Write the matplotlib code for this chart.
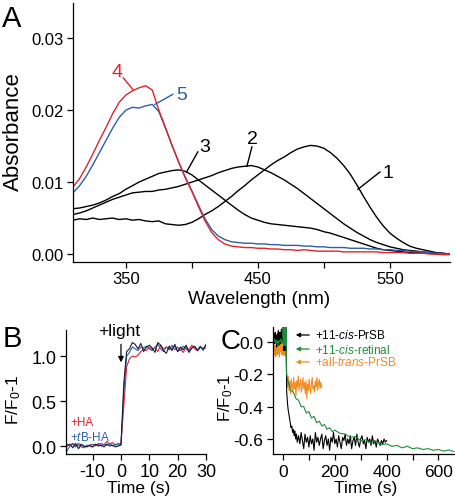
"""
three panel figure: absorbance spectra (A), fluorescence step on light (B),
fluorescence decay after adding retinoids (C)
"""

import numpy as np
import matplotlib
matplotlib.use("Agg")
import matplotlib.pyplot as plt

plt.rcParams['font.family'] = ['Liberation Sans', 'DejaVu Sans']
plt.rcParams['mathtext.fontset'] = 'custom'
plt.rcParams['mathtext.rm'] = 'Liberation Sans'
plt.rcParams['mathtext.it'] = 'Liberation Sans:italic'
plt.rcParams['axes.unicode_minus'] = False

# ---- panel A : spectra (nm, absorbance)
wl = [310, 315, 320, 325, 330, 335, 340, 345, 350, 355, 360, 365, 370, 375, 380,
      385, 390, 395, 400, 405, 410, 415, 420, 425, 430, 435, 440, 445, 450, 455,
      460, 465, 470, 475, 480, 485, 490, 495, 500, 505, 510, 515, 520, 525, 530,
      535, 540, 545, 550, 555, 560, 565, 570, 575, 580, 585, 590, 595]

abs_1 = [0.0047, 0.0049, 0.0048, 0.0050, 0.0048, 0.0049, 0.0050, 0.0048, 0.0049, 0.0047,
         0.0048, 0.0046, 0.0045, 0.0046, 0.0042, 0.0041, 0.0040, 0.0041, 0.0044, 0.0049,
         0.0055, 0.0060, 0.0066, 0.0073, 0.0080, 0.0088, 0.0095, 0.0103, 0.0110, 0.0117,
         0.0124, 0.0130, 0.0135, 0.0141, 0.0146, 0.0149, 0.0151, 0.0150, 0.0147, 0.0141,
         0.0133, 0.0123, 0.0111, 0.0096, 0.0080, 0.0065, 0.0051, 0.0039, 0.0029, 0.0022,
         0.0016, 0.0011, 0.0008, 0.0006, 0.0004, 0.0002, 0.0001, 0.0000]

abs_2 = [0.0055, 0.0057, 0.0060, 0.0064, 0.0068, 0.0072, 0.0076, 0.0079, 0.0082, 0.0085,
         0.0086, 0.0087, 0.0087, 0.0089, 0.0090, 0.0092, 0.0094, 0.0097, 0.0100, 0.0103,
         0.0106, 0.0109, 0.0113, 0.0116, 0.0119, 0.0121, 0.0122, 0.0123, 0.0121, 0.0117,
         0.0113, 0.0108, 0.0103, 0.0097, 0.0091, 0.0084, 0.0077, 0.0070, 0.0063, 0.0056,
         0.0049, 0.0042, 0.0036, 0.0030, 0.0025, 0.0020, 0.0016, 0.0013, 0.0010, 0.0008,
         0.0006, 0.0005, 0.0004, 0.0003, 0.0002, 0.0001, 0.0001, 0.0000]

abs_3 = [0.0063, 0.0064, 0.0066, 0.0068, 0.0071, 0.0075, 0.0080, 0.0084, 0.0090, 0.0095,
         0.0100, 0.0104, 0.0108, 0.0112, 0.0114, 0.0116, 0.0117, 0.0115, 0.0110, 0.0103,
         0.0096, 0.0089, 0.0082, 0.0075, 0.0068, 0.0061, 0.0055, 0.0050, 0.0047, 0.0044,
         0.0042, 0.0041, 0.0040, 0.0039, 0.0038, 0.0037, 0.0036, 0.0034, 0.0031, 0.0029,
         0.0026, 0.0023, 0.0020, 0.0017, 0.0014, 0.0011, 0.0008, 0.0006, 0.0005, 0.0004,
         0.0003, 0.0002, 0.0002, 0.0001, 0.0001, 0.0000, 0.0000, 0.0000]

abs_4 = [0.0093, 0.0105, 0.0121, 0.0139, 0.0158, 0.0176, 0.0195, 0.0211, 0.0221, 0.0227,
         0.0231, 0.0234, 0.0228, 0.0200, 0.0176, 0.0151, 0.0128, 0.0106, 0.0087, 0.0066,
         0.0046, 0.0030, 0.0020, 0.0014, 0.0011, 0.0010, 0.0009, 0.0009, 0.0008, 0.0008,
         0.0007, 0.0007, 0.0006, 0.0006, 0.0005, 0.0006, 0.0005, 0.0004, 0.0004, 0.0004,
         0.0004, 0.0003, 0.0003, 0.0003, 0.0003, 0.0003, 0.0003, 0.0002, 0.0002, 0.0002,
         0.0002, 0.0001, 0.0001, 0.0001, 0.0000, 0.0000, -0.0001, -0.0001]

abs_5 = [0.0085, 0.0095, 0.0108, 0.0124, 0.0141, 0.0158, 0.0175, 0.0190, 0.0200, 0.0204,
         0.0203, 0.0206, 0.0208, 0.0198, 0.0175, 0.0151, 0.0128, 0.0107, 0.0088, 0.0068,
         0.0049, 0.0034, 0.0025, 0.0020, 0.0017, 0.0016, 0.0015, 0.0015, 0.0014, 0.0014,
         0.0013, 0.0013, 0.0012, 0.0012, 0.0012, 0.0011, 0.0011, 0.0010, 0.0010, 0.0009,
         0.0009, 0.0009, 0.0008, 0.0008, 0.0008, 0.0007, 0.0007, 0.0006, 0.0006, 0.0005,
         0.0005, 0.0004, 0.0003, 0.0003, 0.0002, 0.0001, 0.0001, 0.0000]

# ---- panel B : F/F0-1 vs time (s)
t_b = [-19, -18, -17, -16, -15, -14, -13, -12, -11, -10, -9, -8, -7, -6, -5, -4, -3, -2, -1, 0,
       1, 2, 3, 4, 5, 6, 7, 8, 9, 10, 11, 12, 13, 14, 15, 16, 17, 18, 19, 20,
       21, 22, 23, 24, 25, 26, 27, 28, 29, 30]

f_ha = [0.02, 0.01, 0.03, 0.00, 0.01, -0.01, -0.02, 0.01, 0.00, -0.01, 0.02, 0.01, 0.03, 0.01,
        0.05, 0.02, 0.04, 0.01, 0.03, 0.02, 0.45, 0.88, 0.97, 1.00, 0.99, 1.01, 1.05, 1.08,
        1.06, 1.10, 1.07, 1.09, 1.05, 1.12, 1.08, 1.10, 1.07, 1.09, 1.11, 1.05, 1.08, 1.04,
        1.10, 1.07, 1.12, 1.08, 1.06, 1.10, 1.08, 1.09]

f_tbha = [-0.05, 0.00, 0.02, -0.01, 0.03, 0.01, -0.01, 0.00, 0.01, 0.02, 0.00, 0.03, 0.00, 0.02,
          0.01, 0.03, 0.00, 0.02, 0.01, 0.02, 0.60, 1.00, 1.04, 1.10, 1.08, 1.06, 1.10, 1.09,
          1.11, 1.08, 1.06, 1.10, 1.13, 1.08, 1.05, 1.10, 1.08, 1.12, 1.07, 1.10, 1.06, 1.11,
          1.08, 1.05, 1.09, 1.10, 1.07, 1.11, 1.06, 1.13]

f_ctrl = [0.00, 0.02, -0.02, 0.03, -0.03, 0.02, 0.00, -0.01, 0.01, -0.01, 0.02, 0.00, 0.01, -0.01,
          0.02, 0.00, 0.01, -0.01, 0.00, 0.01, 0.70, 1.05, 1.08, 1.15, 1.13, 1.08, 1.14, 1.05,
          1.10, 1.12, 1.09, 1.04, 1.15, 1.12, 1.06, 1.03, 1.11, 1.06, 1.13, 1.05, 1.10, 1.07,
          1.12, 1.04, 1.09, 1.11, 1.06, 1.10, 1.08, 1.12]

# ---- panel C : F/F0-1 vs time (s)
t_cis = [-36, -34, -32, -30, -28, -26, -24, -22, -20, -18, -16, -14, -12, -10, -8, -6, -4, -2,
         0, 1, 2, 3, 4, 5, 6, 7, 8, 9, 10, 11, 12,
         14, 16, 18, 20, 22, 25, 28, 31, 34, 37, 40, 43, 46, 49, 52, 55,
         60, 65, 70, 75, 80, 85, 90, 95, 100, 105, 110, 115, 120, 125, 130, 135, 140, 145,
         150, 155, 160, 165, 170, 175, 180, 185, 190, 195, 200, 205, 210, 215, 220, 225,
         230, 235, 240, 245, 250, 255, 260, 265, 270, 275, 280, 285, 290, 295, 300, 305,
         310, 315, 320, 325, 330, 335, 340, 345, 350, 355, 360, 365, 370, 375, 380, 385,
         390, 395, 400]
f_cis = [0.02, 0.05, -0.01, 0.06, 0.00, 0.04, -0.03, 0.05, 0.01, 0.07, -0.02, 0.03, 0.06, -0.01,
         0.04, 0.08, 0.00, 0.03,
         0.02, 0.60, -0.05, 0.60, -0.05, 0.60, -0.05, 0.60, -0.05, 0.60, -0.05, 0.60, 0.10,
         -0.30, -0.35, -0.39, -0.42, -0.44, -0.47, -0.50, -0.53, -0.52, -0.56, -0.54, -0.58,
         -0.55, -0.60, -0.57, -0.62,
         -0.58, -0.63, -0.56, -0.61, -0.66, -0.57, -0.62, -0.59, -0.65, -0.58, -0.63, -0.60,
         -0.67, -0.56, -0.62, -0.59, -0.64, -0.60, -0.57, -0.66, -0.61, -0.58, -0.64, -0.60,
         -0.67, -0.59, -0.62, -0.56, -0.63, -0.60, -0.65, -0.58, -0.62, -0.66, -0.59, -0.61,
         -0.57, -0.64, -0.60, -0.63, -0.58, -0.66, -0.61, -0.59, -0.64, -0.57, -0.62, -0.65,
         -0.60, -0.58, -0.63, -0.61, -0.66, -0.59, -0.62, -0.60, -0.64, -0.58, -0.63, -0.61,
         -0.65, -0.60, -0.62, -0.64, -0.61, -0.63, -0.60, -0.62, -0.61]

t_ret = [-36, -32, -28, -24, -20, -16, -12, -8, -4, 0, 1, 2, 3, 4, 5, 6, 7, 8, 9, 10, 11, 12,
         14, 20, 30, 40, 50, 60, 70, 80, 90, 100, 110, 120, 130, 140, 150, 160, 170, 180,
         190, 200, 220, 240, 260, 280, 300, 320, 340, 360, 380, 400, 420, 440, 460, 480,
         500, 520, 540, 560, 580, 600, 620, 640, 660]
f_ret = [0.00, 0.02, -0.01, 0.01, -0.02, 0.01, 0.00, 0.02, -0.01, 0.00, 0.50, -0.02, 0.50,
         -0.02, 0.50, -0.02, 0.50, -0.02, 0.50, -0.02, 0.50, 0.05,
         -0.20, -0.25, -0.30, -0.31, -0.35, -0.36, -0.40, -0.40, -0.44, -0.43, -0.47, -0.46,
         -0.50, -0.49, -0.52, -0.51, -0.54, -0.53, -0.555, -0.545, -0.565, -0.57, -0.59,
         -0.585, -0.61, -0.605, -0.625, -0.615, -0.635, -0.63, -0.645, -0.64, -0.655, -0.645,
         -0.66, -0.655, -0.665, -0.66, -0.67, -0.665, -0.675, -0.668, -0.678]

t_trans = [-36, -34, -32, -30, -28, -26, -24, -22, -20, -18, -16, -14, -12, -10, -8, -6, -4, -2,
           0, 1, 2, 3, 4, 5, 6, 7, 8, 9, 10, 11, 12,
           14, 17, 20, 23, 26, 29, 32, 35, 38, 41, 44, 47, 50, 53, 56, 59, 62, 65, 68, 71,
           74, 77, 80, 83, 86, 89, 92, 95, 98, 101, 104, 107, 110, 113, 116, 119, 122, 125,
           128, 131, 134, 137, 140, 143, 146, 149]
f_trans = [-0.03, -0.08, -0.02, -0.06, -0.09, -0.01, -0.05, -0.08, -0.03, -0.07, -0.02, -0.09,
           -0.04, -0.06, 0.00, -0.05, -0.08, -0.03,
           -0.02, 0.40, -0.08, 0.40, -0.08, 0.40, -0.08, 0.40, -0.08, 0.40, -0.08, 0.40, -0.10,
           -0.22, -0.28, -0.21, -0.30, -0.24, -0.32, -0.23, -0.27, -0.31, -0.22, -0.29, -0.25,
           -0.33, -0.24, -0.28, -0.21, -0.30, -0.26, -0.23, -0.31, -0.27, -0.22, -0.29, -0.25,
           -0.32, -0.24, -0.35, -0.26, -0.30, -0.23, -0.28, -0.32, -0.25, -0.22, -0.29, -0.27,
           -0.31, -0.24, -0.28, -0.22, -0.30, -0.26, -0.23, -0.29, -0.25, -0.28]

red = "#e3232b"
blue = "#2d5fa6"
green = "#1f8c3b"
orange = "#f08c22"
navy = "#1b1b3a"


def style_ax(ax, size):
    for s in ["top", "right"]:
        ax.spines[s].set_visible(False)
    for s in ["left", "bottom"]:
        ax.spines[s].set_linewidth(0.9)
    ax.tick_params(direction="out", length=4, width=0.9, labelsize=size, pad=3)


fig = plt.figure(figsize=(4.55, 5.02), dpi=100)
W, H = 455.0, 502.0


def px_axes(x0, y0, x1, y1):
    # pixel box (top-left origin) -> figure axes
    return fig.add_axes([x0 / W, 1 - y1 / H, (x1 - x0) / W, (y1 - y0) / H])


def ftxt(x, y, s, **kw):
    fig.text(x / W, 1 - y / H, s, **kw)


# ---------------- A
axA = px_axes(73, 4, 450, 262.5)
style_ax(axA, 12)
axA.plot(wl, abs_1, color="k", lw=1.0)
axA.plot(wl, abs_2, color="k", lw=1.0)
axA.plot(wl, abs_3, color="k", lw=1.0)
axA.plot(wl, abs_5, color=blue, lw=1.0)
axA.plot(wl, abs_4, color=red, lw=1.0)
axA.set_xlim(310, 595.5)
axA.set_ylim(-0.00104, 0.0349)
axA.set_xticks([350, 400, 450, 500, 550])
axA.set_xticklabels(["350", "", "450", "", "550"])
axA.set_yticks([0.0, 0.01, 0.02, 0.03])
axA.set_yticklabels(["0.00", "0.01", "0.02", "0.03"])
ftxt(13, 132, "Absorbance", fontsize=16, rotation=90, ha="center", va="center")
ftxt(259, 300, "Wavelength (nm)", fontsize=13.5, ha="center", va="center")

# curve labels with leader lines
lab = [("4", red, (355.3, 0.0229), (348.0, 0.0245), (343.5, 0.0254)),
       ("5", blue, (372.0, 0.0208), (385.6, 0.0222), (392.0, 0.0222)),
       ("3", "k", (396.0, 0.0114), (404.5, 0.0142), (410.0, 0.0150)),
       ("2", "k", (441.7, 0.0122), (445.5, 0.0149), (446.0, 0.0160)),
       ("1", "k", (525.8, 0.0090), (542.4, 0.0114), (548.5, 0.0114))]
for s, c, p_end, p_start, p_txt in lab:
    axA.plot([p_end[0], p_start[0]], [p_end[1], p_start[1]], color=c, lw=1.0)
    axA.text(p_txt[0], p_txt[1], s, color=c, fontsize=14, ha="center", va="center")

ftxt(12, 19, "A", fontsize=21, ha="center", va="center")

# ---------------- B
axB = px_axes(66, 331, 206, 454.5)
style_ax(axB, 13)
axB.plot(t_b, f_ha, color=red, lw=0.8)
axB.plot(t_b, f_tbha, color=blue, lw=0.8)
axB.plot(t_b, f_ctrl, color=navy, lw=0.8)
axB.set_xlim(-19.4, 30)
axB.set_ylim(-0.083, 1.289)
axB.set_xticks([-10, 0, 10, 20, 30])
axB.set_yticks([0.0, 0.5, 1.0])
axB.set_yticklabels(["0.0", "0.5", "1.0"])
ftxt(139, 489, "Time (s)", fontsize=12.5, ha="center", va="center")
ftxt(14, 400, r"F/F$_0$-1", fontsize=12.5, rotation=90, ha="center", va="center")

axB.text(-18, 0.27, "+HA", color=red, fontsize=8.5, va="center")
axB.text(-18, 0.11, r"+$\it{t}$B-HA", color=blue, fontsize=8.5, va="center")
axB.annotate("", xy=(0, 0.93), xytext=(0, 1.13),
             arrowprops=dict(arrowstyle="-|>", color="k", lw=0.9,
                             mutation_scale=8, shrinkA=0, shrinkB=0))
ftxt(119, 332, "+light", fontsize=12.5, ha="center", va="center")
ftxt(12.5, 339, "B", fontsize=21, ha="center", va="center")

# ---------------- C
axC = px_axes(273, 328, 455, 455)
style_ax(axC, 12.5)
axC.plot(t_trans, f_trans, color=orange, lw=0.8)
axC.plot(t_cis, f_cis, color="k", lw=0.8)
axC.plot(t_ret, f_ret, color=green, lw=0.8)
axC.set_xlim(-38.6, 664)
axC.set_ylim(-0.693, 0.093)
axC.set_xticks([0, 100, 200, 300, 400, 500, 600])
axC.set_xticklabels(["0", "", "200", "", "400", "", "600"])
axC.set_yticks([-0.6, -0.4, -0.2, 0.0])
axC.set_yticklabels(["-0.6", "-0.4", "-0.2", "0.0"])
ftxt(366, 489, "Time (s)", fontsize=12.5, ha="center", va="center")
ftxt(226, 398, r"F/F$_0$-1", fontsize=12, rotation=90, ha="center", va="center")

leg = [(r"+11-$\it{cis}$-PrSB", "k", 336),
       (r"+11-$\it{cis}$-retinal", green, 350),
       (r"+all-$\it{trans}$-PrSB", orange, 363)]
for s, c, y in leg:
    fig.patches.append(matplotlib.patches.FancyArrowPatch(
        (312 / W, 1 - y / H), (293 / W, 1 - y / H), transform=fig.transFigure,
        arrowstyle="-|>", mutation_scale=6, color=c, lw=0.9))
    ftxt(315, y, s, color=c, fontsize=8.5, va="center")

ftxt(231, 342, "C", fontsize=20, ha="center", va="center")

fig.savefig("out.png", dpi=100)
